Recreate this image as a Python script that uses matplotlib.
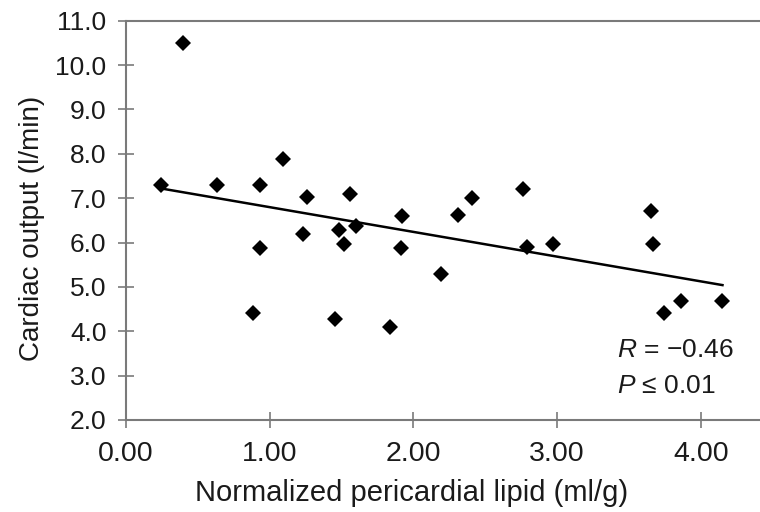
import matplotlib
matplotlib.use('Agg')
import matplotlib.pyplot as plt
import numpy as np

plt.rcParams['font.family'] = ['Liberation Sans', 'DejaVu Sans']
plt.rcParams['mathtext.fontset'] = 'custom'
plt.rcParams['mathtext.it'] = 'Liberation Sans:italic'
plt.rcParams['mathtext.rm'] = 'Liberation Sans'

# normalized pericardial lipid (ml/g) vs cardiac output (l/min)
lipid = [0.24, 0.40, 0.63, 0.93, 1.09, 1.26, 1.56, 1.92, 1.23, 1.48,
         1.60, 0.93, 1.52, 1.91, 0.885, 1.455, 1.84, 2.19, 2.31, 2.41,
         2.76, 2.79, 2.97, 3.65, 3.67, 3.74, 3.86, 4.15]
output = [7.29, 10.5, 7.29, 7.29, 7.89, 7.02, 7.1, 6.6, 6.2, 6.29,
          6.38, 5.88, 5.96, 5.88, 4.40, 4.27, 4.10, 5.30, 6.63, 7.0,
          7.2, 5.9, 5.96, 6.7, 5.96, 4.40, 4.68, 4.68]

# regression line ends
trend_x = [0.24, 4.15]
trend_y = [7.22, 5.04]

xticks = [0, 1, 2, 3, 4]
yticks = [2, 3, 4, 5, 6, 7, 8, 9, 10, 11]

fig = plt.figure(figsize=(7.6, 5.12), dpi=100)
ax = fig.add_axes([0.1658, 0.1797, 0.834, 0.78])

ax.plot(trend_x, trend_y, color='black', lw=1.8, zorder=2)
ax.plot(lipid, output, 'D', color='black', ms=8.5, mew=0, zorder=3)

ax.set_xlim(0, 4.41)
ax.set_ylim(2, 11)
ax.set_xticks(xticks)
ax.set_xticklabels(['%.2f' % v for v in xticks])
ax.set_yticks(yticks)
ax.set_yticklabels(['%.1f' % v for v in yticks])

grey = '#7a7a7a'
txt = '#1a1a1a'
for side in ['left', 'bottom', 'top']:
    ax.spines[side].set_color(grey)
    ax.spines[side].set_linewidth(1.5)
ax.spines['right'].set_visible(False)
ax.tick_params(direction='inout', length=12, width=1.2, color=grey,
               labelcolor=txt)
ax.tick_params(axis='x', labelsize=20.5, pad=9)
ax.tick_params(axis='y', labelsize=19, pad=8)
ax.tick_params(top=False)

ax.set_xlabel('Normalized pericardial lipid (ml/g)', fontsize=21, color=txt)
ax.set_ylabel('Cardiac output (l/min)', fontsize=20, color=txt)
ax.xaxis.set_label_coords(0.451, -0.148)
ax.yaxis.set_label_coords(-0.128, 0.48)

ax.text(0.774, 0.158, '$R$ = \u22120.46', transform=ax.transAxes,
        fontsize=19, color=txt, va='baseline')
ax.text(0.774, 0.068, '$P$ \u2264 0.01', transform=ax.transAxes,
        fontsize=19, color=txt, va='baseline')

plt.savefig('out.png', dpi=100)
